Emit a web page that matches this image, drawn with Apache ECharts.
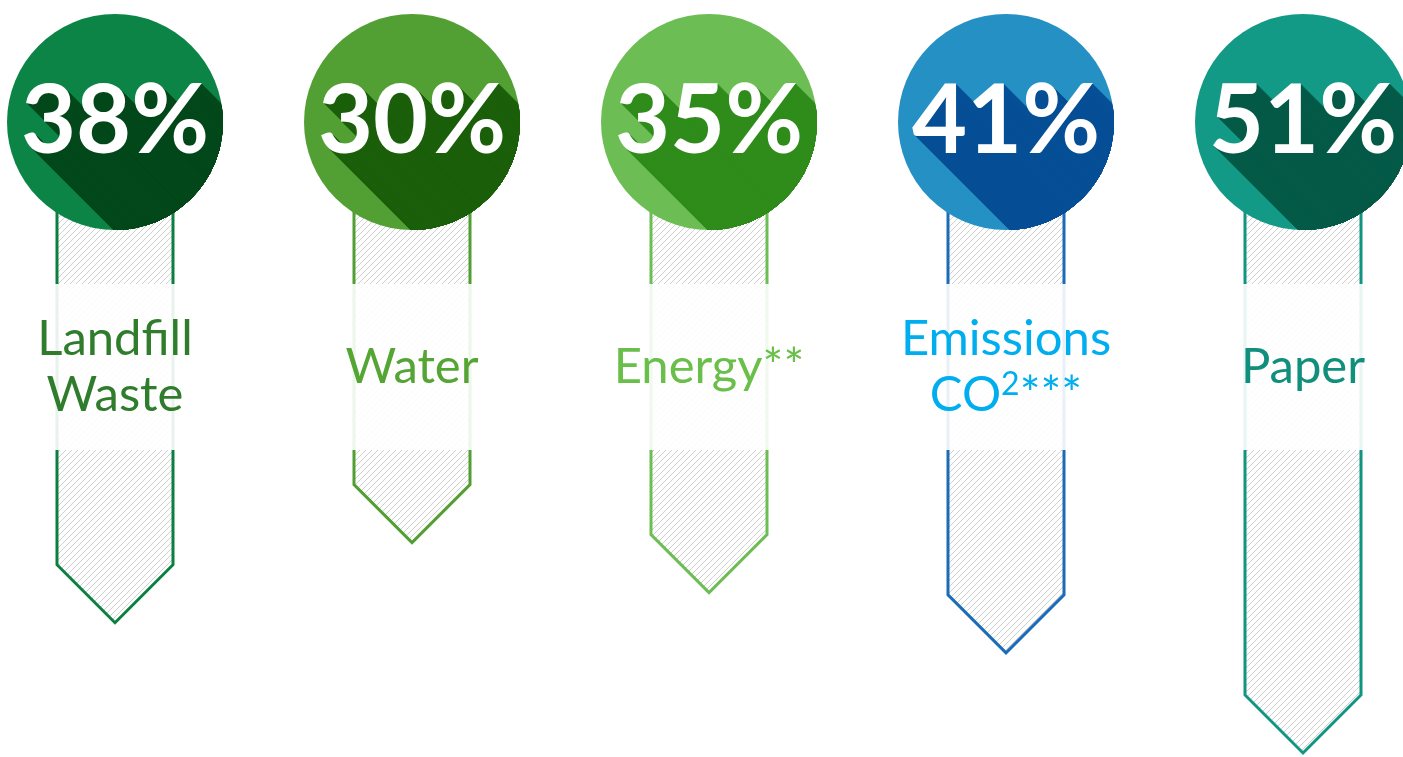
<!DOCTYPE html>
<html>
<head>
<meta charset="utf-8">
<script src="https://cdn.jsdelivr.net/npm/echarts@6/dist/echarts.min.js"></script>
<style>
html,body{margin:0;padding:0;background:#fff;}
#chart{width:1403px;height:757px;}
</style>
</head>
<body>
<div id="chart"></div>
<script>
// ---- data ----
const categories = ['Landfill\nWaste', 'Water', 'Energy**', 'Emissions\nCO{sup|2}***', 'Paper'];
const percentages = [38, 30, 35, 41, 51];

// ---- styles ----
const circleColors = ['#0b8446', '#52a033', '#6cbd53', '#2490c4', '#139a86'];
const shadowColors = ['#02481a', '#1b5f0b', '#2f8c1b', '#064f96', '#045a47'];
const strokeColors = ['#0a8040', '#519f32', '#6cbd53', '#1a6bb8', '#0f9580'];
const labelColors  = ['#2f7d2c', '#55a535', '#6abf4b', '#00aeef', '#0f8f7c'];

// hatch pattern
const tile = document.createElement('canvas');
tile.width = 6; tile.height = 6;
const tctx = tile.getContext('2d');
tctx.strokeStyle = '#cfcfcf';
tctx.lineWidth = 1;
tctx.beginPath();
tctx.moveTo(-1, 7); tctx.lineTo(7, -1);
tctx.moveTo(-1, 1); tctx.lineTo(1, -1);
tctx.moveTo(5, 7); tctx.lineTo(7, 5);
tctx.stroke();

const chart = echarts.init(document.getElementById('chart'));

const CY = 122, R = 108, HALF = 58, BAND_TOP = 284, BAND_BOT = 450;

function renderItem(params, api) {
  const i = api.value(0);
  const v = api.value(1);
  const base = api.coord([i, 0]);
  const tip = api.coord([i, v]);
  const cx = base[0];
  const ty = tip[1];
  const children = [];
  children.push({
    type: 'polygon',
    shape: { points: [[cx - HALF, 180], [cx + HALF, 180], [cx + HALF, ty - HALF], [cx, ty], [cx - HALF, ty - HALF]] },
    style: { fill: { image: tile, repeat: 'repeat' }, stroke: strokeColors[i], lineWidth: 3, lineJoin: 'miter' }
  });
  children.push({
    type: 'rect',
    shape: { x: cx - HALF - 2, y: BAND_TOP, width: HALF * 2 + 4, height: BAND_BOT - BAND_TOP },
    style: { fill: 'rgba(255,255,255,0.9)' }
  });
  children.push({
    type: 'text',
    style: {
      x: cx, y: (BAND_TOP + BAND_BOT) / 2,
      text: categories[i],
      align: 'center', verticalAlign: 'middle',
      fontFamily: 'Lato', fontSize: 49, lineHeight: 56,
      fill: labelColors[i],
      rich: {
        sup: { fontFamily: 'Lato', fontSize: 32, lineHeight: 56, verticalAlign: 'top', fill: labelColors[i], padding: [2, 0, 0, 0] }
      }
    }
  });
  children.push({
    type: 'circle',
    shape: { cx: cx, cy: CY, r: R },
    style: { fill: circleColors[i] }
  });
  const sh = [];
  const txt = v + '%';
  for (let k = 1; k <= 160; k++) {
    sh.push({
      type: 'text',
      style: {
        x: cx + k, y: CY + k, text: txt, align: 'center', verticalAlign: 'middle',
        fontFamily: 'Lato', fontWeight: 'bold', fontSize: 95, fill: shadowColors[i]
      }
    });
  }
  children.push({
    type: 'group',
    clipPath: { type: 'circle', shape: { cx: cx, cy: CY, r: R } },
    children: sh
  });
  children.push({
    type: 'text',
    style: {
      x: cx, y: CY, text: txt, align: 'center', verticalAlign: 'middle',
      fontFamily: 'Lato', fontWeight: 'bold', fontSize: 95, fill: '#ffffff'
    }
  });
  return { type: 'group', children: children };
}

chart.setOption({
  animation: false,
  grid: { left: 115, right: 100, top: 242, height: 521, outerBoundsMode: 'none', containLabel: false },
  xAxis: { type: 'category', data: categories, boundaryGap: false, show: false },
  yAxis: { type: 'value', inverse: true, min: 0, max: 52, show: false },
  series: [{
    type: 'custom',
    renderItem: renderItem,
    clip: false,
    data: percentages.map((v, i) => [i, v]),
    encode: { x: 0, y: 1 }
  }]
});
</script>
</body>
</html>
